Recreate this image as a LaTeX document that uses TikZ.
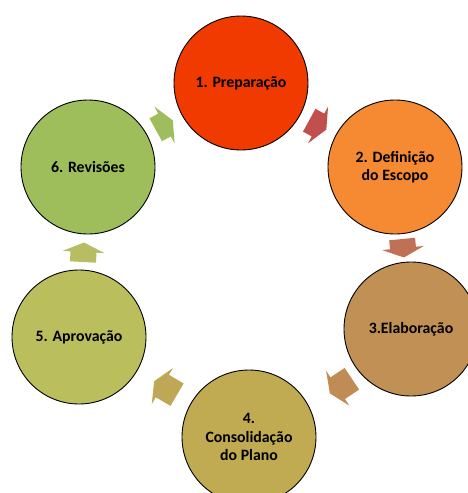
\documentclass[tikz,border=0pt]{standalone}
\usepackage{fontspec}
\setmainfont{Carlito}
\usetikzlibrary{positioning}

\definecolor{prepfill}{RGB}{240,58,0}
\definecolor{escopofill}{RGB}{245,138,50}
\definecolor{elabfill}{RGB}{192,144,84}
\definecolor{consolfill}{RGB}{192,170,82}
\definecolor{aprovfill}{RGB}{187,190,92}
\definecolor{revisfill}{RGB}{158,190,92}
\definecolor{arrowA}{RGB}{192,80,77}
\definecolor{arrowB}{RGB}{192,112,85}
\definecolor{arrowC}{RGB}{192,140,85}
\definecolor{arrowD}{RGB}{190,168,85}
\definecolor{arrowE}{RGB}{184,188,98}
\definecolor{arrowF}{RGB}{158,189,92}

\tikzset{
    stage/.style={draw=black, line width=0.9pt, circle, minimum size=134pt, inner sep=0pt,
        align=center, font=\bfseries\fontsize{15.8}{18.5}\selectfont},
    arrow back/.store in=\arrowback, arrow back=10,
    arrow offset/.store in=\arrowoffset, arrow offset=0,
    cyclearrow/.pic={
        \fill[pic actions, yshift=\arrowoffset pt] (-\arrowback,-13) -- (0,-13) -- (0,-21) -- (9.5,0) -- (0,21) -- (0,13) -- (-\arrowback,13) -- cycle;
    }
}

\begin{document}
\begin{tikzpicture}[x=1pt, y=-1pt]
    \clip (0,0) rectangle (468,493);
    \node[stage, fill=prepfill] (prep) at (241,83) {1. Preparação};
    \node[stage, fill=escopofill] (escopo) at (395,167) {2. Definição\\do Escopo};
    \node[stage, fill=elabfill] (elab) at (411,329) {3.Elaboração};
    \node[stage, fill=consolfill] (consol) at (249,437) {4.\\Consolidação\\do Plano};
    \node[stage, fill=aprovfill] (aprov) at (79,337) {5. Aprovação};
    \node[stage, fill=revisfill] (revis) at (88,167) {6. Revisões};

    \path (prep) -- pic[pos=.5, sloped, allow upside down, fill=arrowA]{cyclearrow} (escopo);
    \path (escopo) -- pic[pos=.5, sloped, allow upside down, fill=arrowB, arrow back=9]{cyclearrow} (elab);
    \path (elab) -- pic[pos=.44, sloped, allow upside down, fill=arrowC, arrow back=17, arrow offset=8.6]{cyclearrow} (consol);
    \path (consol) -- pic[pos=.53, sloped, allow upside down, fill=arrowD, arrow back=17]{cyclearrow} (aprov);
    \path (aprov) -- pic[pos=.5, sloped, allow upside down, fill=arrowE]{cyclearrow} (revis);
    \path (revis) -- pic[pos=.5, sloped, allow upside down, fill=arrowF]{cyclearrow} (prep);
\end{tikzpicture}
\end{document}
